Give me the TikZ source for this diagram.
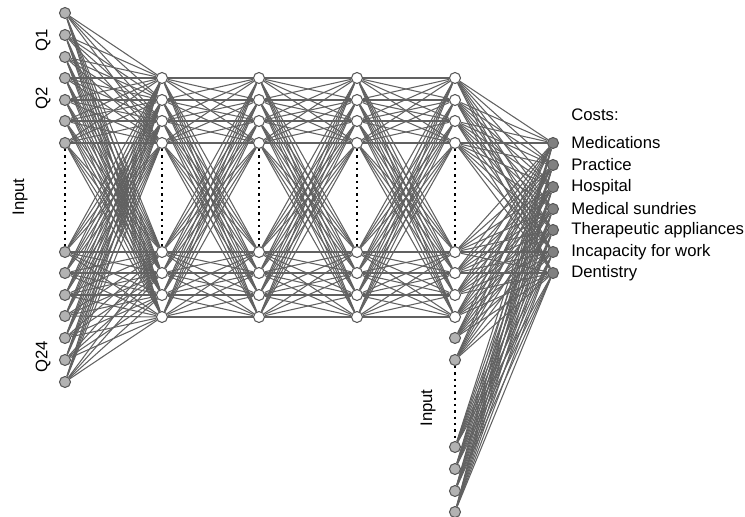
\documentclass[tikz,border=0pt]{standalone}
\usepackage{fontspec}
\setmainfont{Liberation Sans}
\begin{document}
\begin{tikzpicture}[x=0.02cm, y=-0.02cm,
        neuron/.style={circle, draw=black!65, line width=0.6pt, inner sep=0pt, minimum size=2.2mm},
        inp/.style={neuron, fill=black!30},
        hid/.style={neuron, fill=white},
        outp/.style={neuron, fill=black!50},
        conn/.style={draw=black!62, line width=0.6pt},
        gap/.style={line width=1.3pt, dash pattern=on 1.3pt off 2.3pt},
        lbl/.style={font=\fontsize{9.5}{11}\selectfont, inner sep=0pt}]
    \useasboundingbox (0,0) rectangle (745,517);
    % left input column
    \foreach \y [count=\i] in {13,35,57,78,100,121,143,252,273,295,316,338,360,382}
        \node [inp] (a\i) at (65,\y) {};
    % hidden layers
    \foreach \x [count=\l] in {162,259,357,455}
        \foreach \y [count=\i] in {78,100,121,143,252,273,295,317}
            \node [hid] (h\l-\i) at (\x,\y) {};
    % second input column
    \foreach \y [count=\i] in {338,360,447,469,491,512}
        \node [inp] (b\i) at (455,\y) {};
    % outputs
    \foreach \y/\t [count=\i] in {143/Medications, 165/Practice, 187/Hospital,
            209/Medical sundries, 230/Therapeutic appliances,
            252/Incapacity for work, 273/Dentistry} {
        \node [outp] (o\i) at (553,\y) {};
        \node [lbl, anchor=west] (t\i) at (571,\y) {\t};
    }
    \node [lbl, anchor=west] (costs) at (571,115) {Costs:};
    % connections
    \foreach \i in {1,...,14}
        \foreach \j in {1,...,8}
            \draw [conn] (a\i) -- (h1-\j);
    \foreach \l [evaluate=\l as \m using int(\l+1)] in {1,2,3}
        \foreach \i in {1,...,8}
            \foreach \j in {1,...,8}
                \draw [conn] (h\l-\i) -- (h\m-\j);
    \foreach \i in {1,...,8}
        \foreach \j in {1,...,7}
            \draw [conn] (h4-\i) -- (o\j);
    \foreach \i in {1,...,6}
        \foreach \j in {1,...,7}
            \draw [conn] (b\i) -- (o\j);
    % skipped units
    \draw [gap] (a7) -- (a8);
    \foreach \l in {1,...,4}
        \draw [gap] (h\l-4) -- (h\l-5);
    \draw [gap] (b2) -- (b3);
    % labels
    \node [lbl, rotate=90] (q1) at (43,40) {Q1};
    \node [lbl, rotate=90] (q2) at (43,98) {Q2};
    \node [lbl, rotate=90] (q24) at (43,357) {Q24};
    \node [lbl, rotate=90] (in1) at (20,197) {Input};
    \node [lbl, rotate=90] (in2) at (428,408) {Input};
\end{tikzpicture}
\end{document}
